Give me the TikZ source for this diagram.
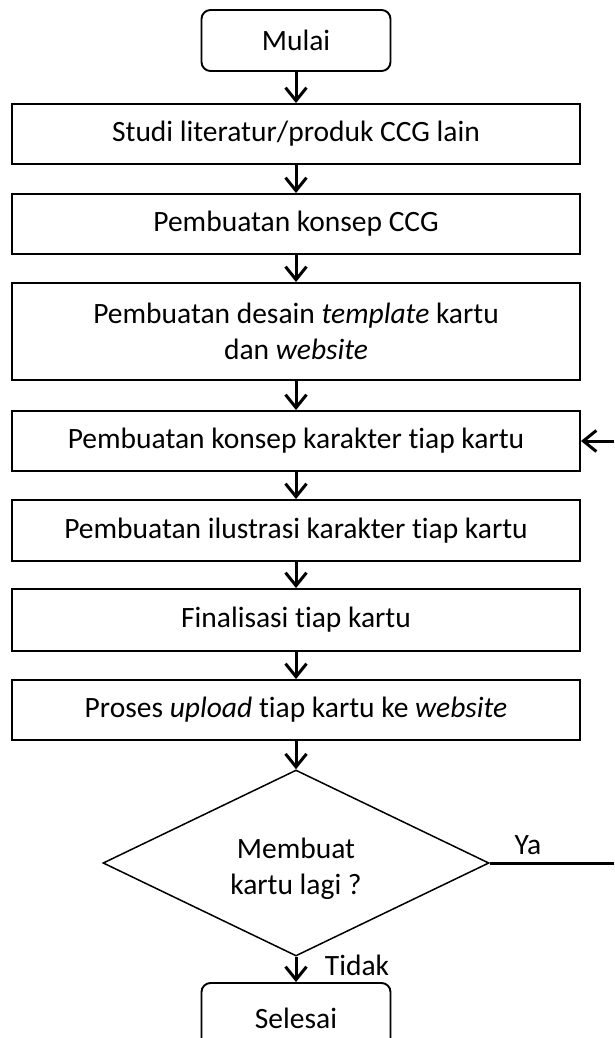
\documentclass[tikz,border=0pt]{standalone}
\usepackage{fontspec}
\setmainfont[Ligatures=NoCommon]{Carlito}
\usetikzlibrary{shapes.geometric,arrows.meta}
\begin{document}
\begin{tikzpicture}[x=1pt,y=-1pt,
  every node/.style={font=\fontsize{29.5}{36}\selectfont},
  procbox/.style={draw, line width=1.9pt, minimum width=568pt, minimum height=60pt, inner sep=0pt, align=center},
  termbox/.style={draw, line width=1.9pt, rounded corners=9pt, minimum width=189pt, minimum height=61pt, inner sep=0pt},
  decbox/.style={draw, diamond, line width=1.5pt, minimum width=386pt, minimum height=186pt, inner sep=0pt},
  flow/.style={line width=3pt, -{Straight Barb[length=13pt,width=21pt]}},
  lbl/.style={inner sep=0pt, align=center}]
\useasboundingbox (0,0) rectangle (614,1038);
\node[termbox] (start) at (296,40.5) {Mulai};
\node[procbox] (b1) at (296,134) {Studi literatur/produk CCG lain};
\node[procbox] (b2) at (296,224) {Pembuatan konsep CCG};
\node[procbox, minimum height=97pt] (b3) at (296,331.5) {Pembuatan desain \textit{template} kartu\\dan \textit{website}};
\node[procbox] (b4) at (296,441) {Pembuatan konsep karakter tiap kartu};
\node[procbox, minimum height=61pt] (b5) at (296,530.5) {Pembuatan ilustrasi karakter tiap kartu};
\node[procbox, minimum height=62pt] (b6) at (296,620) {Finalisasi tiap kartu};
\node[procbox] (b7) at (296,710) {Proses \textit{upload} tiap kartu ke \textit{website}};
\node[decbox] (d) at (296,863) {};
\node[lbl] (dtext) at (296,869) {Membuat\\kartu lagi ?};
\node[termbox, minimum height=70pt] (end) at (296,1018) {Selesai};
\draw[flow] (start) -- (b1);
\draw[flow] (b1) -- (b2);
\draw[flow] (b2) -- (b3);
\draw[flow] (b3) -- (b4);
\draw[flow] (b4) -- (b5);
\draw[flow] (b5) -- (b6);
\draw[flow] (b6) -- (b7);
\draw[flow] (b7) -- (d);
\draw[flow] (d) -- (end);
\coordinate (yaend) at (614,863);
\coordinate (loopin) at (614,441);
\draw[line width=3pt] (d.east) -- (yaend);
\draw[flow] (loopin) -- (b4.east);
\node[lbl] (ya) at (528,845) {Ya};
\node[lbl] (tidak) at (357,965) {Tidak};
\end{tikzpicture}
\end{document}
